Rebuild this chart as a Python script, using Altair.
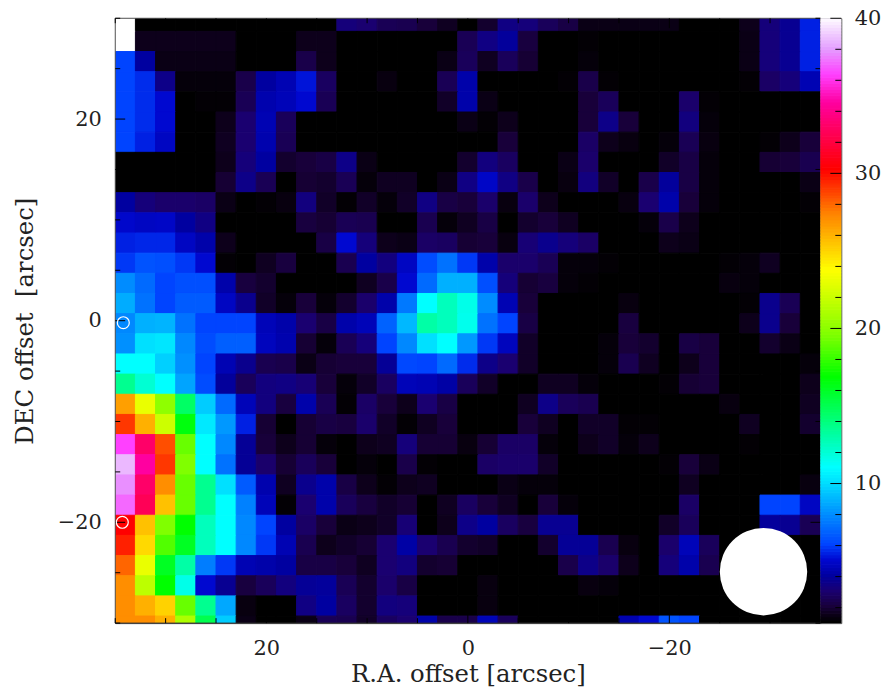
import altair as alt
import pandas as pd

R = [
[40,1,1,1,1,1,1,1,1,1,1,3.2,3,2.5,2.4,2,1.6,1,1.8,3.4,3.2,2.6,2.2,1.4,1.4,1.4,1.4,1.4,1,1,1,1.5,3.2,3.7,5.4],
[40,1.5,1.5,1.5,1.5,1.5,1,1,1,1.5,1.5,1,1,1,1,1,1,2.5,3.4,3.9,2.1,1,1,1.1,1,1,1,1,1,1,1,1.4,3.2,3.7,5.4],
[6,4,1.4,1.4,1.4,1.4,1,1,1,2.3,1.5,1,1,1,1,1,1.4,2.6,1.6,2.6,1.9,1,1,1.2,1,1,1,1,1,1,1,1.4,3.2,3.7,5.4],
[6,5.6,3.5,1.2,1.2,1.2,2.3,4,4.4,5.2,2.7,1,1,1.3,1,1,2.5,4.2,1,1,1,1,1.1,2.3,1.1,1,1,1,1,1,1,1.1,2.8,3.2,4.4],
[6,5.6,5,1,1.1,1.1,2.5,4.3,4.5,5,2.5,1,1,1,1,1,1.7,4.2,1.4,1,1,1,1,2,2.6,1,1,1,2.9,1.1,1,1,1,1,1],
[6,5.6,5,1,1,1.5,3,4.4,2.6,1,1,1,1,1,1,1,1,1.4,1.1,1.5,1,1,1,2,3.5,2,1,1,3.3,1.2,1,1,1,1,1],
[6,5.4,4.7,1,1,1.6,3,4.3,2.5,1,1,1,1,1,1,1,1,1,1,2,1,1,1,2.8,1.5,1.3,1,1.2,2.5,1.3,1,1,1.1,1.5,2],
[1,1,1,1,1,1.5,3.2,4,1.8,2,2.2,3.5,1.4,1,1,1,1,1.8,3.3,2.7,1,1,1.4,2.9,1,1,1,1.7,2.2,1.2,1,1,1.9,2,2.4],
[1,1,1,1,1,1.9,3.5,2.5,1,1.9,1.8,2.5,1.2,1.6,1.6,1,1.4,3.4,4.8,3.4,2.3,1,1.3,3.3,1.7,1,2.3,3.9,2.2,1.2,1,1,1,1,1.4],
[4,3.2,2.9,2.9,2.8,1.4,1,1.1,1.3,3.3,1.7,1.1,1.7,1.2,1.7,3.4,2.2,2,2.9,1.3,2.9,1.5,1,1,1,1.3,3,4.2,2,1.2,1,1,1,1,1.1],
[4.9,4.7,4.8,4,3.4,1,1,1,1,2.1,1.9,2.5,2.4,1,1,2.4,1.2,1.6,2.2,1,1.8,2,1.6,1,1,1,1.2,2.3,1.5,1,1,1,1,1,1],
[5.4,5.5,5.5,4.7,4.2,1.5,1,1,1,1,2.2,5,3.2,1.5,1.4,2.8,2.7,1.9,2,1.3,3.1,3.6,3.2,2.8,1,1,1,1.5,1.4,1,1,1,1,1,1],
[5.8,6.4,6.3,5.8,5,1.1,1,1.6,2.1,1,1,2.4,4,3.3,4.7,6.2,7.2,5.8,4.2,2.9,2.9,2.5,1.2,1.2,1.1,1,1,1,1,1,1.1,1.2,1.6,1,1],
[7.9,7,6,6.3,6.3,4.2,2.1,1.8,1,1,1,1,1.6,2.3,5,7,8.8,8.8,6.3,3.2,1.9,2.1,1.2,1.1,1,1,1,1,1,1,1.3,1.2,1,1,1],
[8.7,7.2,6,6.6,6.6,4.7,3.6,1.7,1.2,2,1.2,1.8,2.9,4.2,7.4,11,12.5,11.5,7.9,4.4,2,1,1,1,1,1.3,1,1,1,1,1,1.1,3.6,2.5,1],
[7.8,8.8,8.9,7.2,6,6,6,4.5,4.2,3,2.2,4.2,4.5,6.8,9,13,12.5,11.4,7.2,6,2.2,1,1,1,1,2.1,1,1,1,1,1,1.5,3.6,2,1],
[8,10,10.2,7.8,6.2,6.7,6.7,4.6,4.3,1.9,1.2,2.5,3.2,6,7.8,10,11,8.2,5.8,4.6,1.7,1,1,1,1.2,2,1.8,1,2.2,2,1,1,1.8,1.4,1],
[11,11,9.6,8,6,4.4,3.6,2.4,2.3,1.4,1.9,2,2,3.8,6.1,6,7,5.6,3.5,3,1.7,1,1,1,1.2,2.4,1.6,1,1.5,2,1,1,1,1,1.2],
[13.5,12,11,8.5,6.2,3.9,2.6,3.3,3.4,3.1,2,1.2,1.7,2.7,4.5,4.4,4.1,2.6,1.7,1,1,1.6,1.6,1.2,1,1,1,1.1,1.9,2,1,1,1,1,1.5],
[26.5,23,20,14.5,9.5,7,4.5,3.3,2.1,4.2,2.5,1.1,2.8,2,1.5,3,2.2,1,1,1,1.6,3.5,2.6,2.4,1,1,1,1,1,1,1.3,1,1,1,1.6],
[29,26,22,16.5,10.3,8.2,5.4,1.9,1,1.9,2.2,2.1,2.9,1.7,1.1,1.6,2,1,1,1,2,1.6,1,1.7,1.7,1.1,1.1,1,1,1,1,1.6,1,1,1.8],
[36.3,33,28.5,19,11,7.8,3.8,2,1.5,1.9,1.2,1,1.5,1.6,3.2,1.9,1.9,1.3,1.9,2.8,2.8,1.2,1,1.5,1.7,1.2,1.5,1,1,1,1,1.1,1,1,1],
[38.5,34.5,29,19.5,11,7.2,3.8,2.9,1.9,2.6,2,1,1.2,1,2.3,1.1,1,1,2.8,2.9,2.9,1.7,1,1,1,1,1,1.1,2,1.4,1,1,1,1,1],
[37.7,33,27,19,13.5,10,6.6,4.3,1.6,3.6,4.2,2.2,1.5,1.1,1.5,1.6,1,1,1,1.4,1.2,1.2,1,1,1,1,1,1,1.6,1,1,1,1,1,1.3],
[37,32.5,25.5,19,13.5,11,7.6,4.5,1.1,3,4.2,2.6,2.1,1.7,1.9,1,1.6,2.7,2,1.6,1,2,1.2,1,1,1,1,1,2.8,1,1,1,6,6,4.7],
[30.2,25.5,19.5,16.8,12.5,11,7.8,6,4,2.8,2,1.4,1.5,1.7,3.1,1,1.5,3.5,4,2.7,2.1,3.7,3.7,1,1,1,1,1.7,2.6,1,1,1,3.9,3.7,2.5],
[29.5,24.8,18.5,16,12.5,11,7.8,5.8,4.4,2.4,1.5,1.7,1.9,3,4.1,3,2.4,1.8,1.7,1,1,1.8,3.8,3.8,2.4,1.3,1,2.9,4.5,2.6,1,1,1,1,1],
[28,23,16,13,7.5,5.8,4.4,4.2,4,2.2,2.2,2,1.6,3,3.3,1.8,1.9,1,1,1,1,1,2.3,3.5,2.9,1.5,1,3.2,4.2,2.4,1,1,1,1,1],
[27,21.5,16.8,11.5,5,3.7,2.1,2.6,3.3,3.8,3.9,2.5,1.8,2.9,2.2,1,1,1,1.3,1,1,1,1,1.3,1.2,1,1,1,1,1,1,1,1,1,1],
[27,26,25,19,13.5,8.6,1.3,1,1,3.4,4,2.7,1.8,3.3,3.2,1,1,1,1.3,1,1,1,1,1,1,1,1,1,1,1,1,1,1,1,1],
[27,27,26,21,15,9.5,1.4,1,1,1.4,2.5,2.4,1.7,2.7,3,4.2,2.3,2.3,4.5,2.6,1,1,1,1,1,4.3,5,6.4,6,1,1,1,1,1,1],
]
for row in R:
    assert len(row) == 35, len(row)

x_edges = [35,33,31,29,27,25,23,21,19,17,15,13,11,9,7,5,3,1,-1,-3,-5,-7,-9,-11,-13,-15,-17,-19,-21,-23,-25,-27,-29,-31,-33,-35]
y_edges = [30,28.7,26.7,24.7,22.7,20.7,18.7,16.7,14.7,12.7,10.7,8.7,6.7,4.7,2.7,0.7,-1.3,-3.3,-5.3,-7.3,-9.3,-11.3,-13.3,-15.3,-17.3,-19.3,-21.3,-23.3,-25.3,-27.3,-29.3,-30]

stops = [1, 1.3, 2, 3, 4, 5, 6, 8, 10, 11, 13.5, 16.8, 19.5, 23.7, 27.4, 30.2, 34.5, 36.3, 38, 40]
cols = ["#000000", "#08000f", "#18003a", "#1a0070", "#0000a0", "#0008d0", "#0044ff", "#0090ff", "#00e0ff", "#00ffff",
        "#00ff90", "#00ff00", "#80ff00", "#ffff00", "#ff8000", "#ff0000", "#ff00a0", "#ff40ff", "#e4a0ff", "#ffffff"]

x_major = [20, 0, -20]
x_minor = [35, 30, 25, 15, 10, 5, -5, -10, -15, -25, -30, -35]
y_major = [20, 0, -20]
y_minor = [30, 25, 15, 10, 5, -5, -10, -15, -25, -30]
cb_major = [10, 20, 30, 40]
cb_minor = [2, 4, 6, 8, 12, 14, 16, 18, 22, 24, 26, 28, 32, 34, 36, 38]
cb_levels = [1 + 0.2 * i for i in range(195)]
beam = [{"x": -29.35, "y": -24.9}]
markers = [{"x": 34.2, "y": -0.2}, {"x": 34.3, "y": -20}]

W, H, CW = 710, 609, 21
FONT = "DejaVu Serif"
INK = "#222222"

cells = pd.DataFrame([
    {"x": x_edges[c], "x2": x_edges[c + 1], "y": y_edges[r], "y2": y_edges[r + 1], "v": R[r][c]}
    for r in range(len(R)) for c in range(35)
])
cscale = alt.Scale(domain=stops, range=cols, interpolate="rgb")
xs = alt.Scale(domain=[35, -35], nice=False, zero=False)
ys = alt.Scale(domain=[-30, 30], nice=False, zero=False)

heat = alt.Chart(cells).mark_rect(strokeWidth=1, clip=True).encode(
    x=alt.X("x:Q", scale=xs, axis=alt.Axis(
        values=x_major, title="R.A. offset [arcsec]", ticks=False, grid=False, domain=False,
        labelFontSize=21, titleFontSize=24.5, labelFont=FONT, titleFont=FONT, labelColor=INK, titleColor=INK,
        titleFontWeight="normal", labelPadding=15, titlePadding=4, format="d")),
    x2="x2:Q",
    y=alt.Y("y:Q", scale=ys, axis=alt.Axis(
        values=y_major, title="DEC offset\u00a0\u00a0[arcsec]", ticks=False, grid=False, domain=False,
        labelFontSize=21, titleFontSize=24.5, labelFont=FONT, titleFont=FONT, labelColor=INK, titleColor=INK,
        titleFontWeight="normal", labelPadding=14, titlePadding=20, format="d")),
    y2="y2:Q",
    color=alt.Color("v:Q", scale=cscale, legend=None),
    stroke=alt.Stroke("v:Q", scale=cscale, legend=None),
)

def xticks(vals, size):
    d = alt.Data(values=[{"t": v} for v in vals])
    top = alt.Chart(d).mark_rule(color="black", strokeWidth=1).encode(
        x=alt.X("t:Q", scale=xs), y=alt.value(0), y2=alt.value(size))
    bot = alt.Chart(d).mark_rule(color="black", strokeWidth=1).encode(
        x=alt.X("t:Q", scale=xs), y=alt.value(H), y2=alt.value(H - size))
    return [top, bot]

def yticks(vals, size):
    d = alt.Data(values=[{"t": v} for v in vals])
    lft = alt.Chart(d).mark_rule(color="black", strokeWidth=1).encode(
        y=alt.Y("t:Q", scale=ys), x=alt.value(0), x2=alt.value(size))
    rgt = alt.Chart(d).mark_rule(color="black", strokeWidth=1).encode(
        y=alt.Y("t:Q", scale=ys), x=alt.value(W), x2=alt.value(W - size))
    return [lft, rgt]

frame = [
    alt.Chart(alt.Data(values=[{"a": 0}])).mark_rule(color="#555555", strokeWidth=1).encode(
        x=alt.value(0), y=alt.value(0), y2=alt.value(H)),
    alt.Chart(alt.Data(values=[{"a": 0}])).mark_rule(color="#555555", strokeWidth=1).encode(
        x=alt.value(0), x2=alt.value(W), y=alt.value(0)),
    alt.Chart(alt.Data(values=[{"a": 0}])).mark_rule(color="#333333", strokeWidth=1).encode(
        x=alt.value(0), x2=alt.value(W), y=alt.value(H)),
]

beam_l = alt.Chart(alt.Data(values=beam)).mark_circle(color="white", opacity=1, size=7744).encode(
    x=alt.X("x:Q", scale=xs), y=alt.Y("y:Q", scale=ys))
mark_l = alt.Chart(alt.Data(values=markers)).mark_point(color="white", filled=False, opacity=1, size=144, strokeWidth=1.2).encode(
    x=alt.X("x:Q", scale=xs), y=alt.Y("y:Q", scale=ys))

main = alt.layer(heat, *frame, *xticks(x_major, 10), *xticks(x_minor, 5), *yticks(y_major, 10), *yticks(y_minor, 5),
                 beam_l, mark_l).properties(width=W, height=H)

cbs = alt.Scale(domain=[1, 40], nice=False, zero=False)
cb_df = pd.DataFrame({"v": cb_levels, "v2": [v + 0.2 for v in cb_levels]})
cb = alt.Chart(cb_df).mark_rect(strokeWidth=1, clip=True).encode(
    x=alt.value(0), x2=alt.value(CW),
    y=alt.Y("v:Q", scale=cbs, axis=alt.Axis(
        orient="right", values=cb_major, title=None, ticks=False, grid=False, domain=False,
        labelFontSize=21, labelFont=FONT, labelColor=INK, labelPadding=13, format="d")),
    y2="v2:Q",
    color=alt.Color("v:Q", scale=cscale, legend=None),
    stroke=alt.Stroke("v:Q", scale=cscale, legend=None),
)
cb_maj = alt.Chart(alt.Data(values=[{"t": v} for v in cb_major])).mark_rule(color="black").encode(
    y=alt.Y("t:Q", scale=cbs), x=alt.value(CW - 11), x2=alt.value(CW))
cb_min = alt.Chart(alt.Data(values=[{"t": v} for v in cb_minor])).mark_rule(color="black").encode(
    y=alt.Y("t:Q", scale=cbs), x=alt.value(CW - 6), x2=alt.value(CW))
colorbar = alt.layer(cb, cb_maj, cb_min).properties(width=CW, height=H)

chart = alt.hconcat(main, colorbar, spacing=0, bounds="flush").configure_view(
    stroke="#444444", strokeWidth=1
).properties(
    padding={"left": 4, "right": 0, "top": -4, "bottom": 0}, background="white"
)
chart.save("out.html", embed_options={"renderer": "svg", "actions": False})
